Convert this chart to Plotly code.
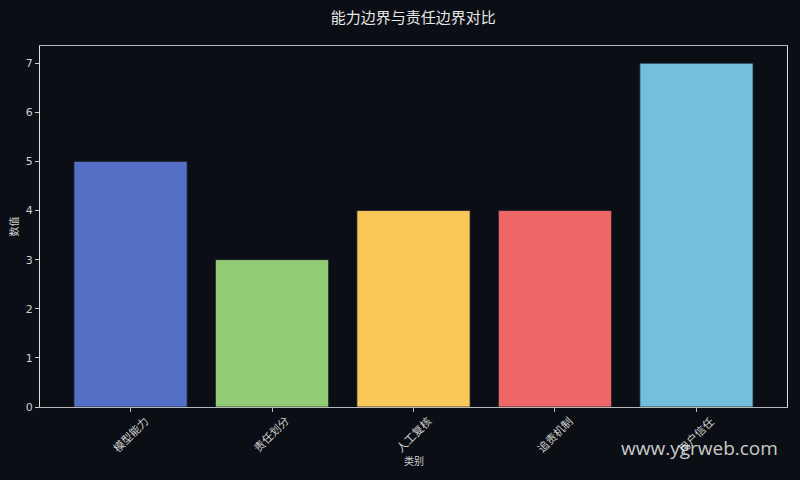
import plotly.graph_objects as go

# chart data
categories = ["模型能力", "责任划分", "人工复核", "追责机制", "用户信任"]
values = [5, 3, 4, 4, 7]
bar_colors = ["#5470c6", "#91cc75", "#fac858", "#ee6666", "#73c0de"]

bg = "#0b0e14"
txt = "#d0d0d0"
font_family = "DejaVu Sans, Noto Sans CJK SC, sans-serif"

fig = go.Figure(go.Bar(
    x=list(range(len(categories))),
    y=values,
    width=0.8,
    marker_color=bar_colors,
    marker_line_color="#1c222c",
    marker_line_width=0.8,
))

# rotated category labels, centered under each tick like matplotlib
annotations = [dict(
    x=i, y=-0.077, xref="x", yref="paper",
    text=c, textangle=-45, showarrow=False,
    xanchor="center", yanchor="middle",
    font=dict(size=11, color=txt, family=font_family),
) for i, c in enumerate(categories)]

# x axis title
annotations.append(dict(
    x=0.5, y=-0.15, xref="paper", yref="paper", text="类别",
    showarrow=False, yanchor="middle",
    font=dict(size=10, color=txt, family=font_family),
))
# watermark
annotations.append(dict(
    x=0.991, y=-0.113, xref="paper", yref="paper", text="www.ygrweb.com",
    showarrow=False, xanchor="right", yanchor="middle",
    font=dict(size=19, color="rgba(225,225,225,0.9)",
              family="Open Sans, Noto Sans, sans-serif"),
))

fig.update_layout(
    width=800, height=480,
    paper_bgcolor=bg, plot_bgcolor=bg,
    margin=dict(l=40, r=13, t=46, b=73),
    font=dict(family=font_family, color=txt, size=10),
    title=dict(text="能力边界与责任边界对比", x=0.5165, xanchor="center",
               y=0.962, yanchor="middle",
               font=dict(size=15, color="#e8e8e8",
                         family="Noto Sans CJK SC, sans-serif")),
    showlegend=False,
    annotations=annotations,
)
fig.update_xaxes(
    range=[-0.64, 4.64], tickvals=list(range(len(categories))),
    showticklabels=False, ticks="outside", ticklen=4, tickcolor="#bbbbbb",
    showgrid=False, zeroline=False,
    showline=True, linecolor="#b8b8b8", linewidth=1.2, mirror=True,
)
fig.update_yaxes(
    range=[0, 7.35], dtick=1, ticks="outside", ticklen=4, tickcolor="#cccccc",
    tickfont=dict(size=11, color=txt),
    title=dict(text="数值", font=dict(size=10, color=txt), standoff=5),
    showgrid=False, zeroline=False,
    showline=True, linecolor="#dddddd", linewidth=1.2, mirror=True,
)

fig.write_html("out.html", config={"displayModeBar": False},
               post_script="document.body.style.margin='0';")
